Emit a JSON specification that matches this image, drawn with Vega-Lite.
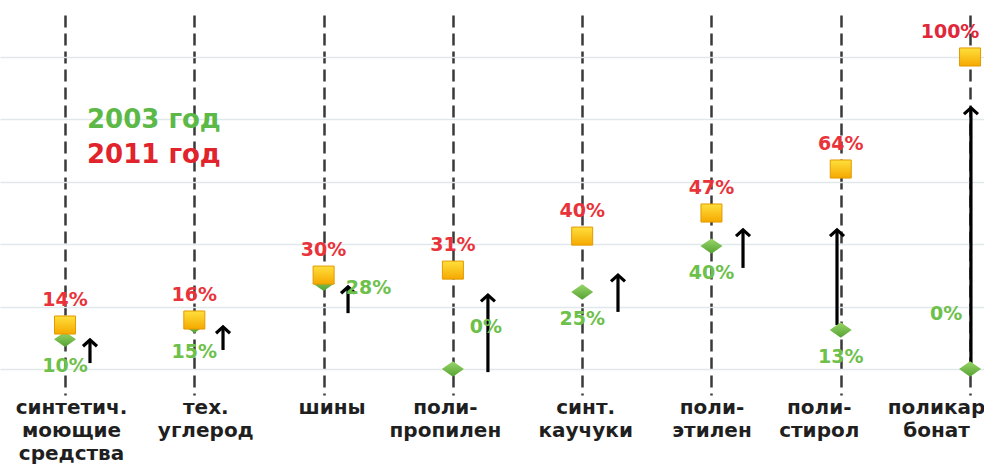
{
  "$schema": "https://vega.github.io/schema/vega-lite/v6.json",
  "width": 984,
  "height": 380,
  "autosize": {"type": "none"},
  "padding": {"left": 0, "top": 15, "right": 0, "bottom": 69},
  "background": "white",
  "config": {"view": {"stroke": null}, "font": "DejaVu Sans"},
  "datasets": {
    "pts": [
      {"x": 0, "cat": "синтетич. моющие средства", "year": "2003 год", "v": 9.5, "lab": "10%"},
      {"x": 0, "cat": "синтетич. моющие средства", "year": "2011 год", "v": 14.1, "lab": "14%"},
      {"x": 1, "cat": "тех. углерод", "year": "2003 год", "v": 14, "lab": "15%"},
      {"x": 1, "cat": "тех. углерод", "year": "2011 год", "v": 15.7, "lab": "16%"},
      {"x": 2, "cat": "шины", "year": "2003 год", "v": 27.5, "lab": "28%"},
      {"x": 2, "cat": "шины", "year": "2011 год", "v": 30.1, "lab": "30%"},
      {"x": 3, "cat": "полипропилен", "year": "2003 год", "v": 0, "lab": "0%"},
      {"x": 3, "cat": "полипропилен", "year": "2011 год", "v": 31.7, "lab": "31%"},
      {"x": 4, "cat": "синт. каучуки", "year": "2003 год", "v": 24.7, "lab": "25%"},
      {"x": 4, "cat": "синт. каучуки", "year": "2011 год", "v": 42.6, "lab": "40%"},
      {"x": 5, "cat": "полиэтилен", "year": "2003 год", "v": 39.4, "lab": "40%"},
      {"x": 5, "cat": "полиэтилен", "year": "2011 год", "v": 50, "lab": "47%"},
      {"x": 6, "cat": "полистирол", "year": "2003 год", "v": 12.5, "lab": "13%"},
      {"x": 6, "cat": "полистирол", "year": "2011 год", "v": 64.1, "lab": "64%"},
      {"x": 7, "cat": "поликарбонат", "year": "2003 год", "v": 0, "lab": "0%"},
      {"x": 7, "cat": "поликарбонат", "year": "2011 год", "v": 100, "lab": "100%"}
    ],
    "arrows": [
      {"x": 0.193, "v": 9.3, "v0": 1.9},
      {"x": 1.222, "v": 13.5, "v0": 6.1},
      {"x": 2.189, "v": 26.3, "v0": 17.9},
      {"x": 3.271, "v": 23.7, "v0": -1},
      {"x": 4.277, "v": 30.1, "v0": 18.3},
      {"x": 5.244, "v": 44.6, "v0": 32.4},
      {"x": 5.971, "v": 44.6, "v0": 14.1},
      {"x": 7.007, "v": 83.7, "v0": 0.3}
    ]
  },
  "encoding": {
    "x": {
      "field": "x",
      "type": "quantitative",
      "scale": {"domain": [-0.503, 7.108], "nice": false, "zero": false},
      "axis": {
        "values": [0, 1, 2, 3, 4, 5, 6, 7],
        "title": null,
        "domain": false,
        "ticks": false,
        "grid": true,
        "gridDash": [12, 6],
        "gridColor": "#3a3a3a",
        "gridWidth": 2.5,
        "labelExpr": "[['синтетич.','моющие','средства'],['тех.','углерод'],['шины'],['поли-','пропилен'],['синт.','каучуки'],['поли-','этилен'],['поли-','стирол'],['поликар','бонат']][datum.value]",
        "labelFont": "DejaVu Sans",
        "labelFontWeight": "bold",
        "labelFontSize": 20,
        "labelColor": "#1f1f1f",
        "labelLineHeight": 23,
        "labelPadding": 2,
        "labelBaseline": "top",
        "labelFlush": false,
        "labelOverlap": false,
        "labelBound": false,
        "labelAlign": "center",
        "labelOffset": {"condition": [
          {"test": "datum.value == 0", "value": 6},
          {"test": "datum.value == 1", "value": 11},
          {"test": "datum.value == 2", "value": 8},
          {"test": "datum.value == 3", "value": -8},
          {"test": "datum.value == 4", "value": 3},
          {"test": "datum.value == 6", "value": -22},
          {"test": "datum.value == 7", "value": -34}
        ], "value": 0}
      }
    },
    "y": {
      "field": "v",
      "type": "quantitative",
      "scale": {"domain": [-8.33, 113.46], "nice": false, "zero": false},
      "axis": {
        "values": [0, 20, 40, 60, 80, 100],
        "title": null,
        "domain": false,
        "ticks": false,
        "labels": false,
        "grid": true,
        "gridColor": "#e0e8ea",
        "gridWidth": 1.5
      }
    }
  },
  "layer": [
    {
      "data": {"name": "arrows"},
      "mark": {"type": "rule", "color": "#000000", "strokeWidth": 3.2},
      "encoding": {"y2": {"field": "v0"}}
    },
    {
      "data": {"name": "arrows"},
      "mark": {"type": "point", "shape": "M-1,0.9L0,0L1,0.9", "filled": false, "stroke": "#000000", "strokeWidth": 3.2, "size": 196, "opacity": 1, "strokeJoin": "miter"}
    },
    {
      "data": {"name": "pts"},
      "transform": [{"filter": "datum.year == '2003 год'"}],
      "mark": {
        "type": "point",
        "filled": true,
        "opacity": 1,
        "size": 484,
        "strokeWidth": 0,
        "fill": {"x1": 0, "y1": 0, "x2": 0, "y2": 1, "gradient": "linear", "stops": [{"offset": 0, "color": "#9ad66a"}, {"offset": 1, "color": "#54a232"}]}
      },
      "encoding": {
        "shape": {
          "field": "year",
          "type": "nominal",
          "scale": {"domain": ["2003 год", "2011 год"], "range": ["M-1,0L0,-0.7L1,0L0,0.7Z", "M-1,-0.86H1V0.86H-1Z"]},
          "legend": {
            "orient": "none", "legendX": 61, "legendY": 92, "title": null,
            "symbolSize": 0, "symbolStrokeWidth": 0, "labelOffset": 0,
            "labelFont": "DejaVu Sans", "labelFontWeight": "bold", "labelFontSize": 26,
            "rowPadding": 9, "padding": 0, "labelBaseline": "middle",
            "labelColor": {"expr": "datum.value == '2003 год' ? '#5cb947' : '#e1232b'"}
          }
        }
      }
    },
    {
      "data": {"name": "pts"},
      "transform": [{"filter": "datum.year == '2011 год'"}],
      "mark": {
        "type": "point",
        "filled": true,
        "opacity": 1,
        "size": 441,
        "stroke": "#e39a00",
        "strokeWidth": 1,
        "fill": {"x1": 0, "y1": 0, "x2": 0, "y2": 1, "gradient": "linear", "stops": [{"offset": 0, "color": "#ffdf3c"}, {"offset": 1, "color": "#f5a900"}]}
      },
      "encoding": {
        "shape": {
          "field": "year",
          "type": "nominal",
          "scale": {"domain": ["2003 год", "2011 год"], "range": ["M-1,0L0,-0.7L1,0L0,0.7Z", "M-1,-0.86H1V0.86H-1Z"]}
        }
      }
    },
    {
      "data": {"name": "pts"},
      "transform": [{"filter": "datum.year == '2011 год' && datum.x < 7"}],
      "mark": {"type": "text", "dy": -25, "font": "DejaVu Sans", "fontWeight": "bold", "fontSize": 19, "color": "#e8333a", "baseline": "middle"},
      "encoding": {"text": {"field": "lab"}}
    },
    {
      "data": {"name": "pts"},
      "transform": [{"filter": "datum.year == '2011 год' && datum.x == 7"}],
      "mark": {"type": "text", "dx": -20, "dy": -25, "font": "DejaVu Sans", "fontWeight": "bold", "fontSize": 19, "color": "#e0283a", "baseline": "middle"},
      "encoding": {"text": {"field": "lab"}}
    },
    {
      "data": {"name": "pts"},
      "transform": [{"filter": "datum.year == '2003 год' && indexof([0,1,4,5,6], datum.x) >= 0"}],
      "mark": {"type": "text", "dy": 27, "font": "DejaVu Sans", "fontWeight": "bold", "fontSize": 19, "color": "#6dc04a", "baseline": "middle"},
      "encoding": {"text": {"field": "lab"}}
    },
    {
      "data": {"name": "pts"},
      "transform": [{"filter": "datum.year == '2003 год' && datum.x == 2"}],
      "mark": {"type": "text", "dx": 45, "dy": 5, "font": "DejaVu Sans", "fontWeight": "bold", "fontSize": 19, "color": "#6dc04a", "baseline": "middle"},
      "encoding": {"text": {"field": "lab"}}
    },
    {
      "data": {"name": "pts"},
      "transform": [{"filter": "datum.year == '2003 год' && datum.x == 3"}],
      "mark": {"type": "text", "dx": 33, "dy": -42, "font": "DejaVu Sans", "fontWeight": "bold", "fontSize": 19, "color": "#6dc04a", "baseline": "middle"},
      "encoding": {"text": {"field": "lab"}}
    },
    {
      "data": {"name": "pts"},
      "transform": [{"filter": "datum.year == '2003 год' && datum.x == 7"}],
      "mark": {"type": "text", "dx": -24, "dy": -55, "font": "DejaVu Sans", "fontWeight": "bold", "fontSize": 19, "color": "#6dc04a", "baseline": "middle"},
      "encoding": {"text": {"field": "lab"}}
    }
  ]
}
